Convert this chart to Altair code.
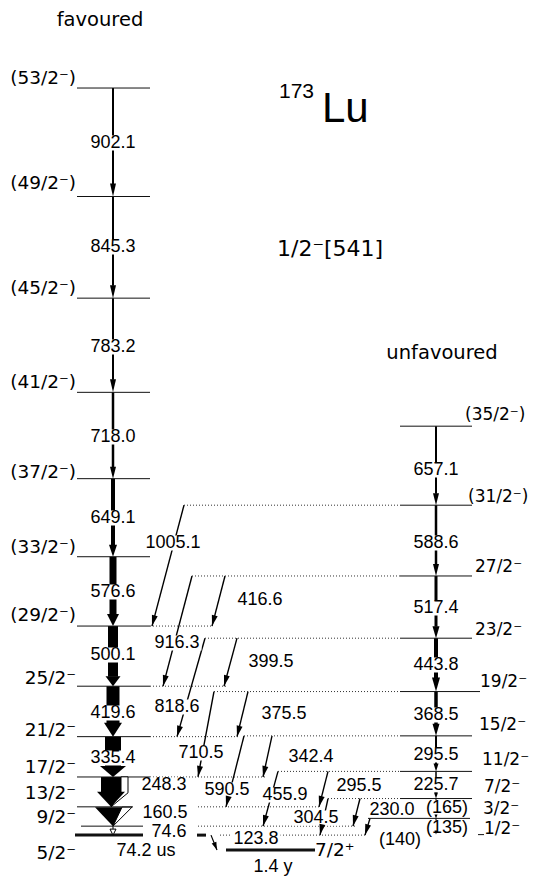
import math
import altair as alt
import pandas as pd

# ---------------- data ----------------
fav_spins = ["5/2⁻", "9/2⁻", "13/2⁻", "17/2⁻", "21/2⁻", "25/2⁻", "(29/2⁻)",
             "(33/2⁻)", "(37/2⁻)", "(41/2⁻)", "(45/2⁻)", "(49/2⁻)", "(53/2⁻)"]
fav_gammas = [74.6, 160.5, 248.3, 335.4, 419.6, 500.1, 576.6, 649.1, 718.0,
              783.2, 845.3, 902.1]
fav_gamma_text = ["74.6", "160.5", "248.3", "335.4", "419.6", "500.1", "576.6",
                  "649.1", "718.0", "783.2", "845.3", "902.1"]
isomer_keV = 123.8
isomer_text = "123.8"
isomer_halflife = "74.2 us"
gs_spin = "7/2⁺"
gs_halflife = "1.4 y"

unf_spins = ["1/2⁻", "3/2⁻", "7/2⁻", "11/2⁻", "15/2⁻", "19/2⁻", "23/2⁻",
             "27/2⁻", "(31/2⁻)", "(35/2⁻)"]
unf_gammas = [135.0, 165.0, 225.7, 295.5, 368.5, 443.8, 517.4, 588.6, 657.1]
unf_gamma_text = ["(135)", "(165)", "225.7", "295.5", "368.5", "443.8",
                  "517.4", "588.6", "657.1"]

link_from = ["(31/2⁻)", "27/2⁻", "27/2⁻", "23/2⁻", "23/2⁻", "19/2⁻", "19/2⁻",
             "15/2⁻", "15/2⁻", "11/2⁻", "11/2⁻", "7/2⁻", "7/2⁻", "3/2⁻"]
link_to = ["(29/2⁻)", "25/2⁻", "(29/2⁻)", "21/2⁻", "25/2⁻", "17/2⁻", "21/2⁻",
           "13/2⁻", "17/2⁻", "9/2⁻", "13/2⁻", "5/2⁻", "9/2⁻", "5/2⁻"]
link_keV = [1005.1, 916.3, 416.6, 818.6, 399.5, 710.5, 375.5, 590.5, 342.4,
            455.9, 295.5, 304.5, 230.0, 140.0]
link_text = ["1005.1", "916.3", "416.6", "818.6", "399.5", "710.5", "375.5",
             "590.5", "342.4", "455.9", "295.5", "304.5", "230.0", "(140)"]

title_fav = "favoured"
title_unf = "unfavoured"
nucleus_mass = "173"
nucleus_sym = "Lu"
config_text = "1/2⁻[541]"

# ---------------- level energies ----------------
fav_E = [isomer_keV]
for g in fav_gammas:
    fav_E.append(fav_E[-1] + g)
F = dict(zip(fav_spins, fav_E))
unf_E = [0.0] * len(unf_spins)
unf_E[8] = F["(29/2⁻)"] + link_keV[0]
unf_E[9] = unf_E[8] + unf_gammas[8]
for i in range(7, -1, -1):
    unf_E[i] = unf_E[i + 1] - unf_gammas[i]
U = dict(zip(unf_spins, unf_E))

# ---------------- layout ----------------
K = 0.12025      # px per keV
GS_PX = 850      # page y of ground state
W, H = 526, 868


def e_at(ypx):
    return (GS_PX - ypx) / K


xs = alt.Scale(domain=[8, 8 + W], nice=False, zero=False)
ys = alt.Scale(domain=[e_at(8 + H), e_at(8)], nice=False, zero=False)

UNF_X = 436


def head(hw, hl):
    return f"M0,0L{-hw/2},{-hl}L{hw/2},{-hl}Z"


fav_shaft_w = [1, 0, 20, 16, 13, 10, 7, 4, 2.5, 2, 2, 2]
fav_shaft_x = [113, 113, 111, 113, 113, 113, 113, 113, 113, 113, 113, 113]
fav_head_len = [6, 19, 15, 11, 14, 10, 12, 12, 12, 13, 13, 13]
fav_head_black = [None, "M0,0L-18,-19L9,-19Z", head(28, 15), head(26, 11),
                  head(18, 14), head(15, 10), head(12, 12), head(8, 12),
                  head(6, 12), head(6, 13), head(6, 13), head(6, 13)]
fav_head_hollow = ["M0,0L-3,-6L3,-6Z", "M0,0L19,-19L9,-19Z",
                   "M0,0L17,-14L17,-30L10,-30L10,-14Z"] + [None] * 9
fav_lab = [(169, 832), (165, 813), (164, 785), (113, 758), (113, 713),
           (113, 655), (113, 592), (113, 518), (113, 437), (113, 347),
           (113, 247), (113, 143)]

unf_shaft_w = [1, 1, 1.5, 2, 3.5, 4, 3, 2.5, 2]
unf_head = [(3, 4), (3, 4), (4, 6), (5, 8), (7, 12), (8, 14), (7, 12), (6, 12), (6, 12)]
unf_lab = [(447, 828), (447, 808), (436, 785), (436, 755), (436, 715),
           (436, 665), (436, 608), (436, 543), (436, 470)]

link_x1 = [184, 192, 225, 205, 237, 214, 248, 244, 272, 278, 328, 328, 360, 370]
link_x2 = [152, 163, 212, 177, 224, 198, 237, 226, 263, 263, 319, 320, 353, 365]
link_lab = [(173, 543), (177, 643), (260, 600), (177, 707), (271, 662),
            (201, 753), (284, 714), (227, 790), (311, 757), (285, 795),
            (359, 786), (316, 818), (392, 810), (400, 840)]

fav_spin_y = [853, 817, 793, 767, 730, 678, 615, 547, 472, 382, 288, 183, 78]
unf_spin_pos = [(484, 829), (483, 809), (484, 787), (482, 760), (479, 725),
                (480, 682), (475, 630), (475, 567), (468, 497), (465, 415)]

# ---------------- build tables ----------------
level_rows = []
for s, e in F.items():
    x1, x2, w = 77, 150, 1
    if s == "13/2⁻":
        x2 = 133
    if s == "9/2⁻":
        x1, x2 = 81, 143
    if s == "5/2⁻":
        x1, x2, w = 75, 143, 3
    level_rows.append(dict(x=x1, x2=x2, y=e, y2=e, w=w))
for s, e in U.items():
    x1, x2 = 400, 472
    if s == "19/2⁻":
        x2 = 480
    if s == "3/2⁻":
        x1, x2 = 368, 470
    if s == "1/2⁻":
        x1, x2 = 478, 484
    level_rows.append(dict(x=x1, x2=x2, y=e, y2=e, w=1))
level_rows.append(dict(x=226, x2=315, y=0.0, y2=0.0, w=3))
level_rows.append(dict(x=197, x2=206, y=isomer_keV, y2=isomer_keV, w=3))
levels = pd.DataFrame(level_rows)

ext_fav = [("(29/2⁻)", 150, 213), ("25/2⁻", 150, 226), ("21/2⁻", 150, 240),
           ("17/2⁻", 150, 265), ("13/2⁻", 198, 320), ("9/2⁻", 198, 355),
           ("5/2⁻", 220, 366)]
ext_unf = [("(31/2⁻)", 184, 400), ("27/2⁻", 192, 400), ("23/2⁻", 205, 400),
           ("19/2⁻", 214, 400), ("15/2⁻", 244, 400), ("11/2⁻", 278, 400),
           ("7/2⁻", 328, 400)]
ext_rows = [dict(x=a, x2=b, y=F[s], y2=F[s], w=1) for s, a, b in ext_fav]
ext_rows += [dict(x=a, x2=b, y=U[s], y2=U[s], w=1) for s, a, b in ext_unf]
exts = pd.DataFrame(ext_rows)

shaft_rows, black_heads, hollow_heads = [], [], []
for i, g in enumerate(fav_gammas):
    top, bot = fav_E[i + 1], fav_E[i]
    if fav_shaft_w[i] > 0:
        shaft_rows.append(dict(x=fav_shaft_x[i], x2=fav_shaft_x[i], y=top,
                               y2=bot + (fav_head_len[i] - 0.5) / K, w=fav_shaft_w[i]))
    tipx = fav_shaft_x[i]
    if fav_head_hollow[i]:
        hollow_heads.append(dict(x=tipx, y=bot, p=fav_head_hollow[i], a=0))
    if fav_head_black[i]:
        black_heads.append(dict(x=tipx, y=bot, p=fav_head_black[i], a=0))
for i, g in enumerate(unf_gammas):
    top, bot = unf_E[i + 1], unf_E[i]
    hw, hl = unf_head[i]
    shaft_rows.append(dict(x=UNF_X, x2=UNF_X, y=top, y2=bot + (hl - 0.5) / K,
                           w=unf_shaft_w[i]))
    black_heads.append(dict(x=UNF_X, y=bot, p=head(hw, hl), a=0))
for i in range(len(link_keV)):
    e1, e2 = U[link_from[i]], F[link_to[i]]
    x1, x2 = link_x1[i], link_x2[i]
    shaft_rows.append(dict(x=x1, x2=x2, y=e1, y2=e2, w=1.4))
    ang = math.degrees(math.atan2(-(x2 - x1), (e1 - e2) * K)) % 360
    black_heads.append(dict(x=x2, y=e2, p=head(6, 11), a=ang))
# isomeric decay 5/2- -> 7/2+ g.s.
shaft_rows.append(dict(x=211, x2=217, y=isomer_keV, y2=0.0, w=1.2))
ang = math.degrees(math.atan2(-(217 - 211), isomer_keV * K)) % 360
black_heads.append(dict(x=217, y=0.0, p=head(5, 8), a=ang))
shafts = pd.DataFrame(shaft_rows)
bheads = pd.DataFrame(black_heads)
hheads = pd.DataFrame(hollow_heads)

# energy labels
en_rows = []
for t, (x, y) in zip(fav_gamma_text, fav_lab):
    en_rows.append(dict(x=x, y=e_at(y), t=t))
for t, (x, y) in zip(unf_gamma_text, unf_lab):
    en_rows.append(dict(x=x, y=e_at(y), t=t))
for t, (x, y) in zip(link_text, link_lab):
    en_rows.append(dict(x=x, y=e_at(y), t=t))
en_rows.append(dict(x=256, y=e_at(839), t=isomer_text))
en_rows.append(dict(x=146, y=e_at(851), t=isomer_halflife))
en_rows.append(dict(x=273, y=e_at(867), t=gs_halflife))
energies = pd.DataFrame(en_rows)

FS = 18
CW = {"0": .556, "1": .556, "2": .556, "3": .556, "4": .556, "5": .556,
      "6": .556, "7": .556, "8": .556, "9": .556, ".": .278, "(": .333,
      ")": .333, " ": .278}
box_rows = []
for r in en_rows[:-2]:
    tw = sum(CW.get(c, .55) for c in r["t"]) * FS
    box_rows.append(dict(x=r["x"] - tw / 2 - 2, x2=r["x"] + tw / 2 + 2,
                         y=r["y"] - 7.5 / K, y2=r["y"] + 7.5 / K))
boxes = pd.DataFrame(box_rows)

fav_spin_df = pd.DataFrame([dict(x=76, y=e_at(y), t=s) for s, y in zip(fav_spins, fav_spin_y)])
unf_spin_df = pd.DataFrame([dict(x=x, y=e_at(y), t=s) for s, (x, y) in zip(unf_spins, unf_spin_pos)])
gs_df = pd.DataFrame([dict(x=315, y=e_at(850), t=gs_spin)])
titles_df = pd.DataFrame([dict(x=100, y=e_at(20), t=title_fav),
                          dict(x=442, y=e_at(353), t=title_unf)])

# ---------------- chart ----------------
X = lambda: alt.X("x:Q", scale=xs, axis=None)
Y = lambda: alt.Y("y:Q", scale=ys, axis=None)


def rule_layer(df, **kw):
    return alt.Chart(df).mark_rule(**kw).encode(
        x=X(), x2="x2:Q", y=Y(), y2="y2:Q",
        strokeWidth=alt.StrokeWidth("w:Q", scale=None))


def text_layer(df, font, size, align):
    return alt.Chart(df).mark_text(font=font, fontSize=size, align=align,
                                   baseline="middle", color="black").encode(
        x=X(), y=Y(), text="t:N")


def one_text(x, ypx, t, font, size, align):
    return text_layer(pd.DataFrame([dict(x=x, y=e_at(ypx), t=t)]), font, size, align)


layers = [
    rule_layer(shafts, color="black"),
    rule_layer(exts, color="#333333", strokeDash=[1, 2]),
    alt.Chart(boxes).mark_rect(color="white", opacity=1).encode(
        x=X(), x2="x2:Q", y=Y(), y2="y2:Q"),
    rule_layer(levels, color="#111111"),
    alt.Chart(hheads).mark_point(filled=True, fill="white", stroke="black",
                                 strokeWidth=1, opacity=1, size=4).encode(
        x=X(), y=Y(), shape=alt.Shape("p:N", scale=None),
        angle=alt.Angle("a:Q", scale=None)),
    alt.Chart(bheads).mark_point(filled=True, color="black", opacity=1, size=4).encode(
        x=X(), y=Y(), shape=alt.Shape("p:N", scale=None),
        angle=alt.Angle("a:Q", scale=None)),
    text_layer(energies, "Liberation Sans", FS, "center"),
    text_layer(fav_spin_df, "DejaVu Sans", 18.5, "right"),
    text_layer(unf_spin_df, "DejaVu Sans", 17, "left"),
    text_layer(gs_df, "DejaVu Sans", 18.5, "left"),
    text_layer(titles_df, "DejaVu Sans", 19.5, "center"),
    one_text(279, 92, nucleus_mass, "Liberation Sans", 21, "left"),
    one_text(322, 109, nucleus_sym, "Liberation Sans", 42, "left"),
    one_text(277, 249, config_text, "DejaVu Sans", 22, "left"),
]

chart = alt.layer(*layers).properties(
    width=W, height=H, padding=0, autosize="none", background="white"
).configure_view(stroke=None)

chart.save("out.html", embed_options={"renderer": "svg", "actions": False})
